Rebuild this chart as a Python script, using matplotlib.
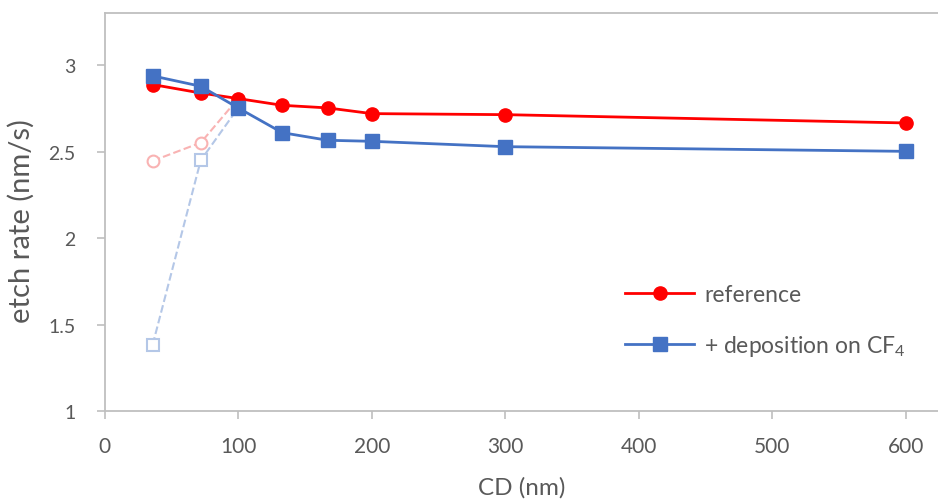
import matplotlib
matplotlib.use("Agg")
import matplotlib.pyplot as plt

plt.rcParams['font.family'] = ['Lato', 'DejaVu Sans']
plt.rcParams['mathtext.fontset'] = 'custom'
plt.rcParams['mathtext.rm'] = 'Lato'
plt.rcParams['mathtext.it'] = 'Lato'

# data
cd = [36, 72, 100, 133, 167, 200, 300, 600]
ref_rate = [2.887, 2.838, 2.806, 2.767, 2.752, 2.719, 2.713, 2.665]
dep_rate = [2.937, 2.877, 2.752, 2.609, 2.565, 2.559, 2.528, 2.501]

# faded dashed branches (small CDs)
cd_faded = [36, 72, 100]
ref_faded = [2.446, 2.551, 2.806]
dep_faded = [1.384, 2.449, 2.752]

red = '#ff0000'
blue = '#4472c4'
gray = '#bfbfbf'
text_col = '#595959'

fig = plt.figure(figsize=(9.38, 5.02), dpi=100)
ax = fig.add_axes([0.1115, 0.179, 0.8885, 0.793])

ax.plot(cd_faded, ref_faded, '--', color='#f9b3b3', lw=1.5, marker='o',
        ms=8.5, mfc='white', mec='#f9b3b3', mew=1.5, zorder=2)
ax.plot(cd_faded, dep_faded, '--', color='#b4c7e7', lw=1.5, marker='s',
        ms=8.5, mfc='white', mec='#b4c7e7', mew=1.5, zorder=2)

ax.plot(cd, ref_rate, '-', color=red, lw=2, marker='o', ms=9.5,
        label='reference', zorder=3)
ax.plot(cd, dep_rate, '-', color=blue, lw=2, marker='s', ms=9.5,
        label='+ deposition on CF$_4$', zorder=4)

ax.set_xlim(0, 624)
ax.set_ylim(1, 3.3)
ax.set_xticks([0, 100, 200, 300, 400, 500, 600])
ax.set_yticks([1, 1.5, 2, 2.5, 3])
ax.set_yticklabels(['1', '1.5', '2', '2.5', '3'])

for s in ax.spines.values():
    s.set_color(gray)
    s.set_linewidth(1.3)
ax.spines['right'].set_visible(False)
ax.tick_params(colors=gray, labelcolor=text_col, length=6,
               width=1.2, direction='out')
ax.tick_params(axis='x', labelsize=15, pad=12)
ax.tick_params(axis='y', labelsize=14, pad=15)

ax.set_xlabel('CD (nm)', fontsize=17.5, color=text_col, labelpad=14)
ax.set_ylabel('etch rate (nm/s)', fontsize=21, color=text_col)
ax.yaxis.set_label_coords(-0.084, 0.48)

leg = ax.legend(loc='center left', bbox_to_anchor=(0.60, 0.226), frameon=False,
                fontsize=16.5, handlelength=3.0, labelspacing=1.2,
                handletextpad=0.45)
for t in leg.get_texts():
    t.set_color(text_col)

fig.savefig('out.png', dpi=100)
